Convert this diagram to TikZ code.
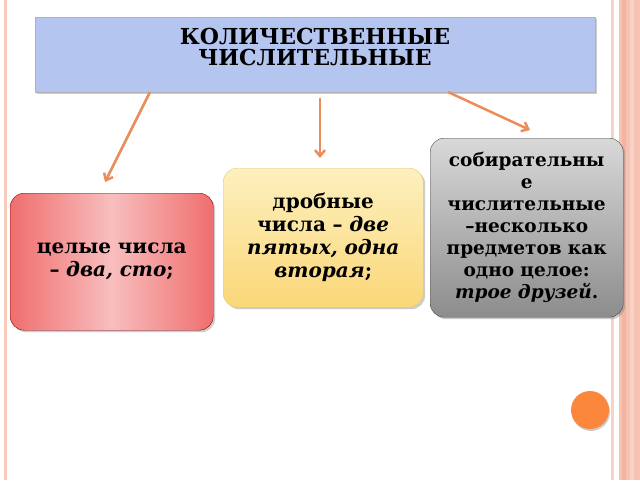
\documentclass[tikz,border=0pt]{standalone}
\usepackage{fontspec}
\setmainfont{DejaVu Serif}
\usetikzlibrary{shadows,arrows.meta}
\definecolor{stripe}{RGB}{244,180,160}
\definecolor{arr}{RGB}{236,140,90}
\tikzset{
 box/.style={draw, rounded corners=14pt, align=center, inner sep=2pt, font=\bfseries\fontsize{20}{23}\selectfont, drop shadow={opacity=0.4,shadow xshift=2pt,shadow yshift=-2pt}},
 con/.style={draw=arr, line width=2.5pt, -{Straight Barb[length=6pt,width=10pt]}},
}
\begin{document}
\begin{tikzpicture}[x=1pt,y=-1pt]
\useasboundingbox (0,0) rectangle (640,480);
\fill[white] (0,0) rectangle (640,480);
\fill[stripe!70] (4,0) rectangle (7,480);
\fill[stripe!60] (611,0) rectangle (614,480);
\fill[stripe!80] (619,0) rectangle (640,480);
\fill[stripe] (622,0) rectangle (626,480);
\fill[stripe!60!white] (630,0) rectangle (634,480);
\node[draw=black!30, fill={rgb,255:red,180;green,198;blue,240}, minimum width=560pt, minimum height=75pt, anchor=north west, drop shadow={opacity=0.4,shadow xshift=2pt,shadow yshift=-2pt}] (t) at (35,17) {};
\node[font=\bfseries\fontsize{22}{21}\selectfont, align=center] (tt) at (315,47) {КОЛИЧЕСТВЕННЫЕ\\ЧИСЛИТЕЛЬНЫЕ};
\node[box, draw=red!60!black, left color={rgb,255:red,240;green,110;blue,110}, right color={rgb,255:red,240;green,110;blue,110}, middle color={rgb,255:red,248;green,190;blue,190}, minimum width=203pt, minimum height=137pt, anchor=north west, text width=195pt] (a) at (10,193) {целые числа\\– \textit{два, сто};};
\node[box, draw={rgb,255:red,230;green,200;blue,120}, top color={rgb,255:red,253;green,240;blue,190}, bottom color={rgb,255:red,250;green,215;blue,120}, minimum width=200pt, minimum height=139pt, anchor=north west, text width=192pt] (b) at (223,168) {дробные\\числа – \textit{две}\\ \textit{пятых, одна}\\ \textit{вторая};};
\node[box, draw=black!70, top color=black!15, bottom color=black!45, minimum width=193pt, minimum height=179pt, anchor=north west, text width=185pt, font=\bfseries\fontsize{18.5}{22}\selectfont] (c) at (430,138) {собирательны\\е\\числительные\\–несколько\\предметов как\\одно целое:\\ \textit{трое друзей}.};
\coordinate (a1) at (150,92); \coordinate (a2) at (105,182);
\coordinate (b1) at (320,98); \coordinate (b2) at (320,158);
\coordinate (c1) at (448,92); \coordinate (c2) at (530,130);
\draw[con] (a1) -- (a2);
\draw[con] (b1) -- (b2);
\draw[con] (c1) -- (c2);
\node[circle, fill={rgb,255:red,250;green,135;blue,60}, minimum size=38pt, drop shadow={opacity=0.4,shadow xshift=1pt,shadow yshift=-2pt}] (d) at (590,410) {};
\end{tikzpicture}
\end{document}
